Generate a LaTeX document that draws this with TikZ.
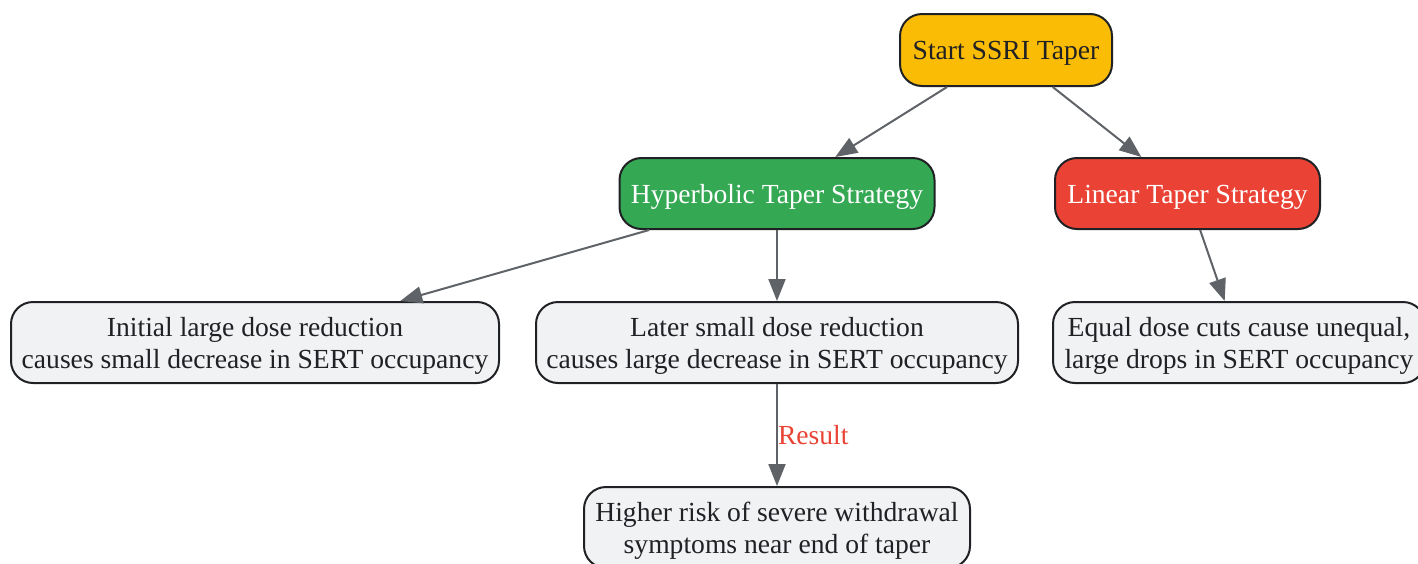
\documentclass[tikz,border=0pt]{standalone}
\usepackage{fontspec}
\setmainfont{Liberation Serif}
\usepackage{xcolor}
\usepackage{tikz}
\usetikzlibrary{arrows.meta,shapes}

\definecolor{startcol}{HTML}{FBBC05}
\definecolor{hypercol}{HTML}{34A853}
\definecolor{linearcol}{HTML}{EA4335}
\definecolor{stepcol}{HTML}{F1F2F4}
\definecolor{edgecol}{HTML}{202124}
\definecolor{arrowcol}{HTML}{5F6368}

\begin{document}
\begin{tikzpicture}[x=0.5pt,y=-0.5pt,
        box/.style={draw=edgecol, line width=1pt, rounded corners=11pt, align=center,
            inner sep=0pt, font=\fontsize{13.8}{16}\selectfont},
        onebox/.style={box, minimum height=35.5pt, text height=13pt, text depth=3.2pt},
        twobox/.style={box, fill=stepcol, text=edgecol, minimum height=40.5pt, text height=28.5pt, text depth=3pt},
        link/.style={draw=arrowcol, line width=1pt, -{Triangle[length=11pt,width=8.5pt]}}]
        \useasboundingbox (0,0) rectangle (1418,563);
        %\draw[help lines] (0,0) grid (1418,563);
        \node[onebox, fill=startcol, text=edgecol, minimum width=106pt, minimum height=36pt] (start) at (1006,50) {Start SSRI Taper};
        \node[onebox, fill=hypercol, text=white, minimum width=157.5pt] (hyper) at (777,193.5) {Hyperbolic Taper Strategy};
        \node[onebox, fill=linearcol, text=white, minimum width=132.5pt] (linear) at (1187.5,193.5) {Linear Taper Strategy};
        \node[twobox, minimum width=244pt] (initial) at (255,342.5) {Initial large dose reduction\\causes small decrease in SERT occupancy};
        \node[twobox, minimum width=241pt] (later) at (777,342.5) {Later small dose reduction\\causes large decrease in SERT occupancy};
        \node[twobox, minimum width=186pt] (equal) at (1239,342.5) {Equal dose cuts cause unequal,\\large drops in SERT occupancy};
        \node[twobox, minimum width=193pt] (higher) at (777,527.5) {Higher risk of severe withdrawal\\symptoms near end of taper};
        \draw[link] (start) -- (hyper);
        \draw[link] (start) -- (linear);
        \draw[link] (hyper) -- (initial);
        \draw[link] (hyper) -- (later);
        \draw[link] (linear) -- (equal);
        \draw[link] (later) -- node[right, inner sep=0pt, text=linearcol, font=\fontsize{13.8}{16}\selectfont] {Result} (higher);
    \end{tikzpicture}
\end{document}
